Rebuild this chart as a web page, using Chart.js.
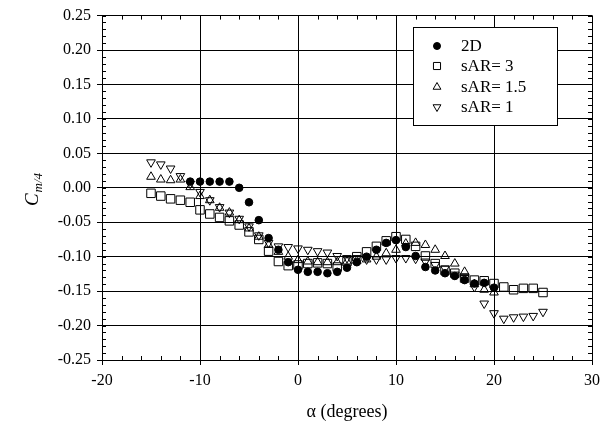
<!DOCTYPE html>
<html><head><meta charset="utf-8">
<script src="https://cdn.jsdelivr.net/npm/chart.js@4"></script>
<style>html,body{margin:0;padding:0;background:#fff}</style>
</head><body>
<canvas id="c" width="616" height="437" style="width:616px;height:437px;display:block"></canvas>
<script>
// ---- data ----
const alpha2D = [-11,-10,-9,-8,-7,-6,-5,-4,-3,-2,-1,0,1,2,3,4,5,6,7,8,9,10,11,12,13,14,15,16,17,18,19,20];
const cm2D    = [0.009,0.009,0.009,0.009,0.009,0.000,-0.021,-0.047,-0.073,-0.090,-0.108,-0.119,-0.122,-0.122,-0.124,-0.122,-0.116,-0.108,-0.100,-0.090,-0.080,-0.076,-0.086,-0.099,-0.115,-0.120,-0.124,-0.128,-0.134,-0.139,-0.138,-0.145];

const alphaAR3 = [-15,-14,-13,-12,-11,-10,-9,-8,-7,-6,-5,-4,-3,-2,-1,0,1,2,3,4,5,6,7,8,9,10,11,12,13,14,15,16,17,18,19,20,21,22,23,24,25];
const cmAR3    = [-0.008,-0.012,-0.016,-0.018,-0.021,-0.032,-0.038,-0.043,-0.048,-0.054,-0.064,-0.075,-0.092,-0.107,-0.113,-0.112,-0.110,-0.109,-0.110,-0.115,-0.107,-0.100,-0.093,-0.085,-0.077,-0.071,-0.075,-0.085,-0.099,-0.110,-0.120,-0.124,-0.131,-0.134,-0.135,-0.139,-0.144,-0.148,-0.146,-0.146,-0.152];

const alphaAR15 = [-15,-14,-13,-12,-11,-10,-9,-8,-7,-6,-5,-4,-3,-2,-1,0,1,2,3,4,5,6,7,8,9,10,11,12,13,14,15,16,17,18,19,20];
const cmAR15    = [0.016,0.012,0.011,0.012,0.001,-0.012,-0.018,-0.029,-0.036,-0.047,-0.059,-0.071,-0.083,-0.093,-0.100,-0.105,-0.107,-0.108,-0.108,-0.108,-0.107,-0.106,-0.104,-0.100,-0.095,-0.090,-0.081,-0.080,-0.083,-0.090,-0.099,-0.110,-0.122,-0.140,-0.148,-0.152];

const alphaAR1 = [-15,-14,-13,-12,-11,-10,-9,-8,-7,-6,-5,-4,-3,-2,-1,0,1,2,3,4,5,6,7,8,9,10,11,12,13,14,15,16,17,18,19,20,21,22,23,24,25];
const cmAR1    = [0.037,0.034,0.028,0.017,0.006,-0.006,-0.018,-0.028,-0.036,-0.045,-0.056,-0.069,-0.080,-0.085,-0.086,-0.088,-0.090,-0.092,-0.094,-0.099,-0.102,-0.102,-0.104,-0.104,-0.104,-0.102,-0.102,-0.103,-0.107,-0.112,-0.117,-0.126,-0.131,-0.144,-0.168,-0.182,-0.190,-0.188,-0.187,-0.186,-0.180];

const xTicks = [-20,-10,0,10,20,30];
const yTicks = [-0.25,-0.20,-0.15,-0.10,-0.05,0.00,0.05,0.10,0.15,0.20,0.25];
const seriesLabels = ['2D','sAR= 3','sAR= 1.5','sAR= 1'];

const pts = (xs, ys) => xs.map((x, i) => ({x, y: ys[i]}));
const SERIF = "'Liberation Serif','DejaVu Serif',serif";

const datasets = [
  {label: seriesLabels[0], data: pts(alpha2D, cm2D), pointStyle: 'circle', pointRadius: 3.8,
   backgroundColor: '#000', borderColor: '#000', borderWidth: 1, pointRotation: 0, order: 4},
  {label: seriesLabels[1], data: pts(alphaAR3, cmAR3), pointStyle: 'rect', pointRadius: 6,
   backgroundColor: 'rgba(0,0,0,0)', borderColor: '#000', borderWidth: 1, pointRotation: 0, order: 3},
  {label: seriesLabels[2], data: pts(alphaAR15, cmAR15), pointStyle: 'triangle', pointRadius: 5,
   backgroundColor: 'rgba(0,0,0,0)', borderColor: '#000', borderWidth: 1, pointRotation: 0, order: 2},
  {label: seriesLabels[3], data: pts(alphaAR1, cmAR1), pointStyle: 'triangle', pointRadius: 5,
   backgroundColor: 'rgba(0,0,0,0)', borderColor: '#000', borderWidth: 1, pointRotation: 180, order: 1}
];

const decor = {
  id: 'decor',
  afterDraw(chart) {
    const ctx = chart.ctx, a = chart.chartArea;
    const xs = chart.scales.x, ys = chart.scales.y;
    ctx.save();
    ctx.strokeStyle = '#000'; ctx.lineWidth = 1;
    // minor ticks, inward
    ctx.beginPath();
    for (let v = -20; v <= 30; v += 2) {
      const px = Math.round(xs.getPixelForValue(v)) + 0.5;
      ctx.moveTo(px, a.bottom); ctx.lineTo(px, a.bottom - 4);
      ctx.moveTo(px, a.top); ctx.lineTo(px, a.top + 4);
    }
    for (let k = -25; k <= 25; k++) {
      const py = Math.round(ys.getPixelForValue(k / 100)) + 0.5;
      ctx.moveTo(a.left, py); ctx.lineTo(a.left + 4, py);
      ctx.moveTo(a.right, py); ctx.lineTo(a.right - 4, py);
    }
    ctx.stroke();

    // x title
    ctx.fillStyle = '#000';
    ctx.font = "18px " + SERIF;
    ctx.textAlign = 'center'; ctx.textBaseline = 'middle';
    ctx.fillText('\u03B1 (degrees)', (a.left + a.right) / 2, 412);

    // y title C_{m/4}
    ctx.translate(32, 190);
    ctx.rotate(-Math.PI / 2);
    ctx.textAlign = 'left'; ctx.textBaseline = 'alphabetic';
    ctx.font = "italic 19px " + SERIF;
    const wC = ctx.measureText('C').width;
    ctx.font = "italic 13px " + SERIF;
    const wS = ctx.measureText('m/4').width;
    const x0 = -(wC + wS) / 2;
    ctx.font = "italic 19px " + SERIF;
    ctx.fillText('C', x0, 6);
    ctx.font = "italic 13px " + SERIF;
    ctx.fillText('m/4', x0 + wC + 1, 10);
    ctx.restore();

    // legend box
    ctx.save();
    const bx = 413, by = 27, bw = 144, bh = 98;
    ctx.fillStyle = '#fff';
    ctx.fillRect(bx, by, bw, bh);
    ctx.strokeStyle = '#000'; ctx.lineWidth = 1;
    ctx.strokeRect(bx + 0.5, by + 0.5, bw, bh);
    const rows = [46, 66, 87, 107];
    chart.data.datasets.forEach((ds, i) => {
      const r = ds.pointStyle === 'circle' ? 3.5 : (ds.pointStyle === 'rect' ? 5 : 4.5);
      ctx.fillStyle = ds.backgroundColor;
      ctx.strokeStyle = ds.borderColor;
      ctx.lineWidth = 1;
      Chart.helpers.drawPoint(ctx, {pointStyle: ds.pointStyle, rotation: ds.pointRotation || 0,
        radius: r, borderWidth: 1}, 437, rows[i]);
      ctx.fillStyle = '#000';
      ctx.font = "17px " + SERIF;
      ctx.textAlign = 'left'; ctx.textBaseline = 'middle';
      ctx.fillText(ds.label, 461, rows[i] + 1);
    });
    ctx.restore();
  }
};

new Chart(document.getElementById('c'), {
  type: 'scatter',
  data: {datasets},
  options: {
    responsive: false,
    animation: false,
    devicePixelRatio: 1,
    layout: {padding: {top: 15, right: 24, left: 0, bottom: 0}},
    plugins: {legend: {display: false}, tooltip: {enabled: false}},
    scales: {
      x: {
        type: 'linear', min: -20, max: 30,
        afterFit: s => { s.height = 77; },
        afterBuildTicks: s => { s.ticks = xTicks.map(v => ({value: v})); },
        ticks: {color: '#000', font: {family: SERIF, size: 16}, padding: 6, maxRotation: 0,
                callback: v => String(v)},
        grid: {color: '#000', lineWidth: 1, tickLength: 5, tickColor: '#000'},
        border: {color: '#000', width: 1}
      },
      y: {
        type: 'linear', min: -0.25, max: 0.25,
        afterFit: s => { s.width = 102; },
        afterBuildTicks: s => { s.ticks = yTicks.map(v => ({value: v})); },
        ticks: {color: '#000', font: {family: SERIF, size: 16}, padding: 6,
                callback: v => Number(v).toFixed(2)},
        grid: {color: '#000', lineWidth: 1, tickLength: 5, tickColor: '#000'},
        border: {color: '#000', width: 1}
      }
    }
  },
  plugins: [decor]
});
</script>
</body></html>
